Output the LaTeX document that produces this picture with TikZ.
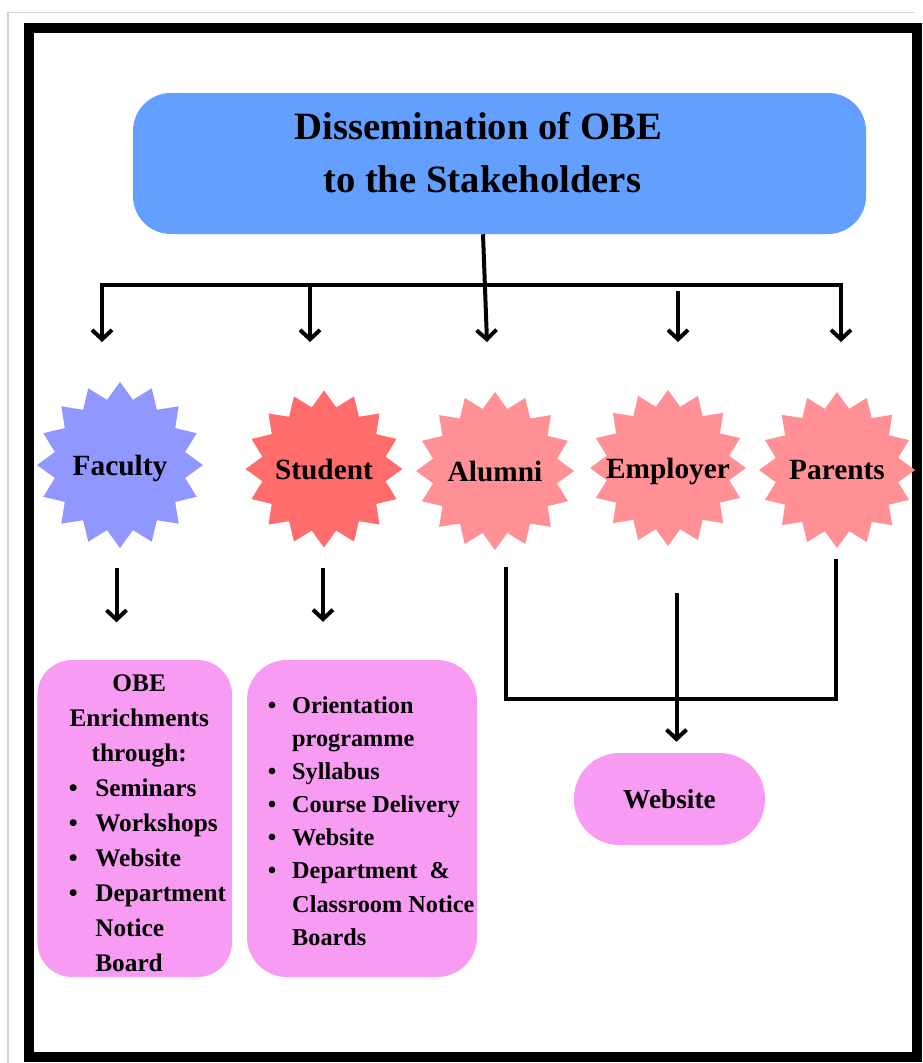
\documentclass[tikz,border=0pt]{standalone}
\usepackage{fontspec}
\setmainfont{Liberation Serif}
\usetikzlibrary{arrows.meta,calc}
\definecolor{titleblue}{RGB}{98,159,255}
\definecolor{facblue}{RGB}{144,151,255}
\definecolor{stured}{RGB}{255,108,108}
\definecolor{starpink}{RGB}{255,144,150}
\definecolor{boxpink}{RGB}{247,156,242}
% #1 centre coordinate, #2 outer radius (px), #3 colour
\newcommand{\burstshape}[3]{%
  \fill[#3] ($(#1)+(90:#2)$)
    \foreach \k in {1,...,31} { -- ($(#1)+({90+\k*11.25}:{#2*(1-0.2*mod(\k,2))})$) } -- cycle;
}
\begin{document}
\begin{tikzpicture}[x=0.75pt,y=-0.75pt,
  burstlabel/.style={circle, inner sep=0pt, draw=none, text depth=0pt, font=\fontsize{22}{26}\selectfont\bfseries},
  infobox/.style={rounded corners=26pt, fill=boxpink, draw=none, inner sep=0pt},
  boxtext/.style={inner sep=0pt, anchor=north west, font=\fontsize{19}{26.25}\selectfont\bfseries},
  conn/.style={line width=3pt, line join=miter},
  arr/.style={conn, -{Straight Barb[length=7pt,width=15pt]}},
  arrboth/.style={conn, {Straight Barb[length=7pt,width=15pt]}-{Straight Barb[length=7pt,width=15pt]}}
]
\useasboundingbox (0,0) rectangle (923,1063);
\fill[white] (0,0) rectangle (923,1063);
% outer thin gray frame and thick black frame
\draw[black!18, line width=0.9pt] (8,1063) -- (8,12.7) -- (914,12.7);
\draw[black, line width=7.5pt] (29,28.5) rectangle (917,1057);

% title
\node[rounded corners=28.5pt, fill=titleblue, minimum width=549.75pt, minimum height=105.75pt,
  inner sep=0pt, align=center, font=\fontsize{29}{39.75}\selectfont\bfseries]
  (title) at (499.5,163.5) {Dissemination of OBE\hspace*{32pt}\\to the Stakeholders\hspace*{26pt}\rule[-16.5pt]{0pt}{16.5pt}};

% stakeholders
\coordinate (cf) at (120,465);
\coordinate (cs) at (324,469);
\coordinate (ca) at (495,471);
\coordinate (ce) at (668,468);
\coordinate (cp) at (837,470);
\burstshape{cf}{83}{facblue}
\burstshape{cs}{78.5}{stured}
\burstshape{ca}{79}{starpink}
\burstshape{ce}{78}{starpink}
\burstshape{cp}{78}{starpink}
\node[burstlabel, minimum size=124.5pt] (faculty) at (cf) {Faculty};
\node[burstlabel, minimum size=117.75pt] (student) at (cs) {Student};
\node[burstlabel, minimum size=118.5pt] (alumni) at (ca) {Alumni};
\node[burstlabel, minimum size=117pt] (employer) at (ce) {Employer};
\node[burstlabel, minimum size=117pt] (parents) at (cp) {Parents};

% top distribution arrows
\coordinate (busL) at (102,285);
\coordinate (busR) at (841,285);
\coordinate (tf) at (102,342);
\coordinate (ts) at (310,342);
\coordinate (ta) at (487,342);
\coordinate (te) at (678,342);
\coordinate (tp) at (841,342);
\draw[arrboth] (tf) -- (busL) -- (busR) -- (tp);
\draw[arr] (ts |- busL) -- (ts);
\draw[arr] ($(title.south)+(-16.5,0)$) -- (ta);
\draw[arr] ($(te |- busL)+(0,6)$) -- (te);

% info boxes
\node[infobox, minimum width=145.9pt, minimum height=237.75pt] (facbox) at (134.75,818.5) {};
\node[boxtext] (factext) at (68.6,666.9) {%
\begin{tabular}{@{}c@{\hspace{13.15pt}}l@{}}
\multicolumn{2}{@{}c@{\hspace{12.4pt}}}{OBE}\\
\multicolumn{2}{@{}c@{\hspace{12.4pt}}}{Enrichments}\\
\multicolumn{2}{@{}c@{\hspace{12.4pt}}}{through:}\\
\textbullet & Seminars\\
\textbullet & Workshops\\
\textbullet & Website\\
\textbullet & Department\\
 & Notice\\
 & Board
\end{tabular}};

\node[infobox, rounded corners=30pt, minimum width=172.5pt, minimum height=237.75pt] (stubox) at (362,818.5) {};
\node[boxtext, font=\fontsize{18.2}{24.8}\selectfont\bfseries] (stutext) at (267.6,690.2) {%
\begin{tabular}{@{}c@{\hspace{11.9pt}}l@{}}
\textbullet & Orientation\\
 & programme\\
\textbullet & Syllabus\\
\textbullet & Course Delivery\\
\textbullet & Website\\
\textbullet & Department\ \ \&\\
 & Classroom Notice\\
 & Boards
\end{tabular}};

\node[infobox, rounded corners=34pt, minimum width=143.25pt, minimum height=69pt,
  font=\fontsize{20.5}{24}\selectfont\bfseries] (webbox) at (669.5,799) {Website};

% lower arrows
\draw[arr] ($(faculty.south)+(-3.5,20)$) -- ++(0,54);
\draw[arr] ($(student.south)+(-1,20)$) -- ++(0,54);
\coordinate (aj) at (506,699);
\coordinate (pj) at (836,699);
\draw[conn] ($(alumni.south)+(11,17)$) -- (aj) -- (pj) -- ($(parents.south)+(-1,11)$);
\draw[arr] ($(employer.south)+(8.5,47)$) -- ($(webbox.north)+(7,-11)$);
\end{tikzpicture}
\end{document}
